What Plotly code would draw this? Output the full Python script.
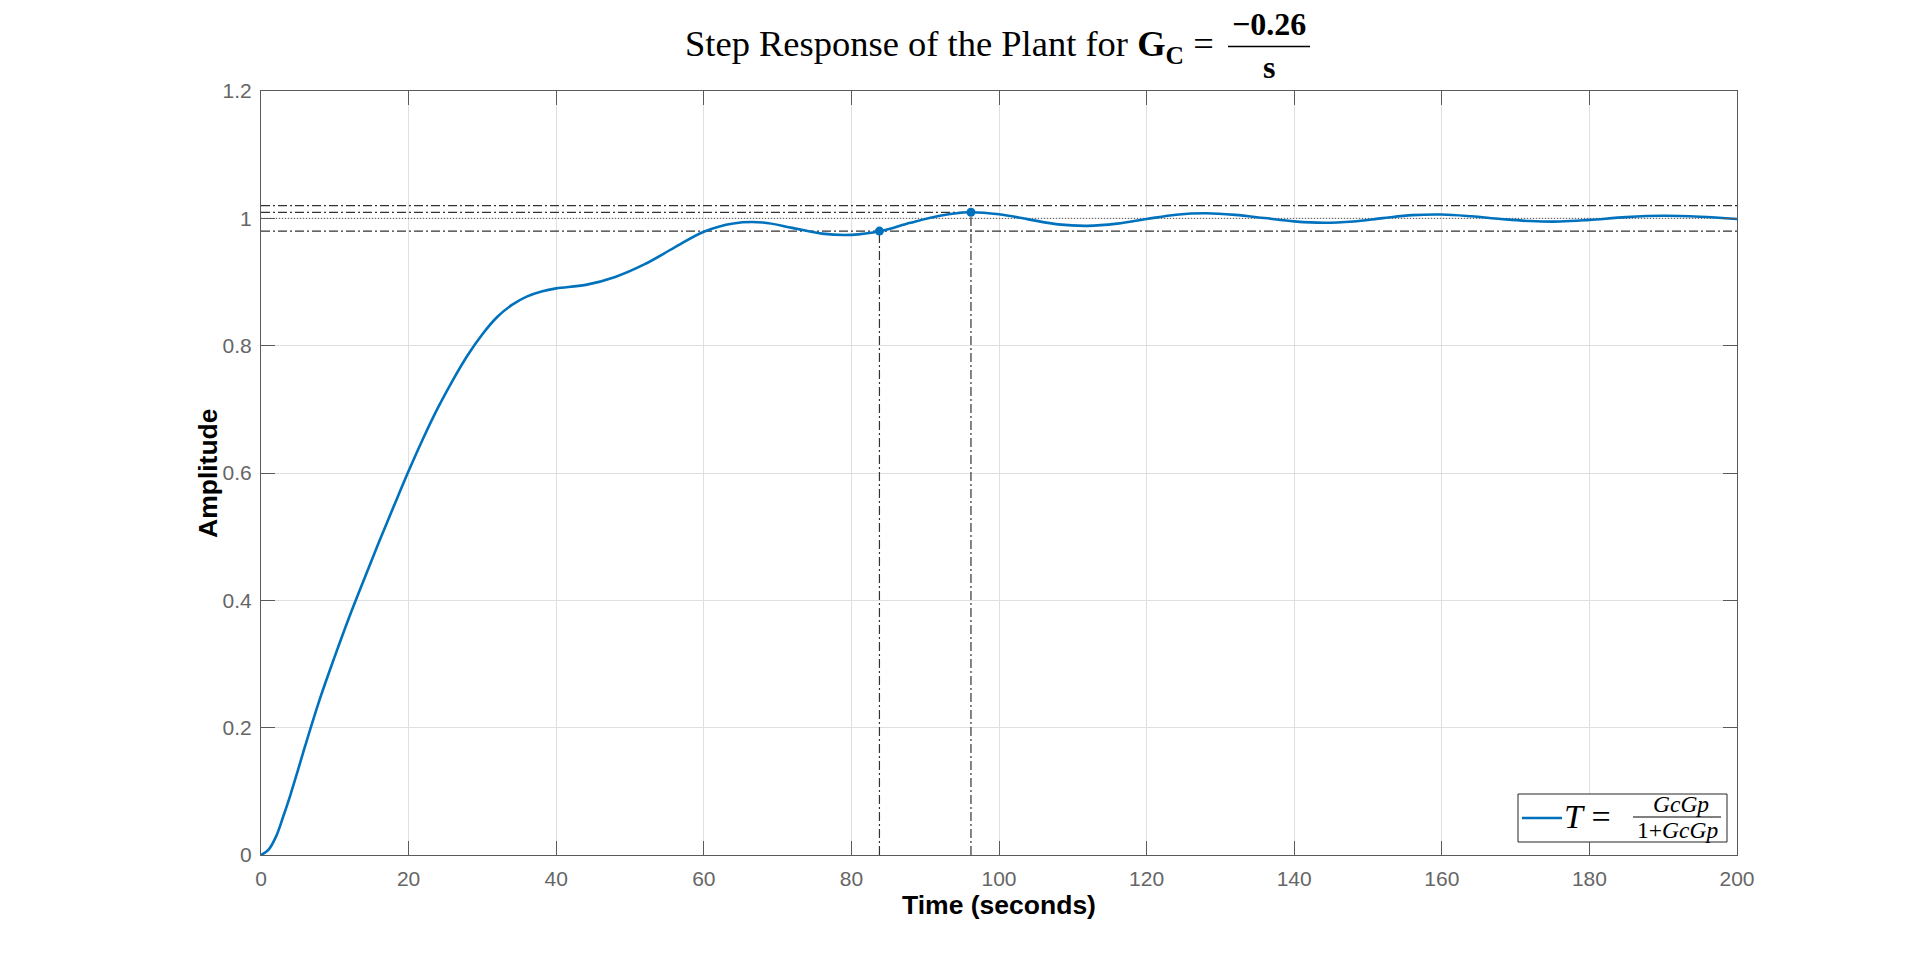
import plotly.graph_objects as go

# step response samples
time_s = [0, 1, 2, 3, 4, 5, 6, 8, 10, 12, 14, 16, 18, 20, 22, 24, 26, 28, 30, 32,
          34, 36, 38, 40, 44, 48, 52, 56, 60, 64, 68, 72, 76, 80, 84, 88, 92, 96,
          100, 104, 108, 112, 116, 120, 124, 128, 132, 136, 140, 144, 148, 152,
          156, 160, 164, 168, 172, 176, 180, 185, 190, 195, 200]
amplitude = [0, 0.008, 0.028, 0.06, 0.095, 0.133, 0.172, 0.246, 0.312, 0.375,
             0.434, 0.492, 0.548, 0.603, 0.655, 0.703, 0.746, 0.785, 0.818, 0.845,
             0.864, 0.877, 0.885, 0.890, 0.8955, 0.908, 0.928, 0.954, 0.979, 0.992,
             0.9935, 0.985, 0.976, 0.974, 0.980, 0.993, 1.004, 1.0095, 1.0064,
             0.9984, 0.9905, 0.9882, 0.9917, 0.9989, 1.0057, 1.008, 1.0055, 1.0004,
             0.9953, 0.993, 0.9951, 1.0003, 1.005, 1.006, 1.0032, 0.999, 0.9957,
             0.995, 0.9975, 1.0019, 1.004, 1.0025, 0.999]

# characteristics
settling_time = 83.8
settling_value = 0.98
peak_time = 96.2
peak_value = 1.0095
final_value = 1.0
band_upper = 1.02
band_lower = 0.98
t_end = 200

x_ticks = [0, 20, 40, 60, 80, 100, 120, 140, 160, 180, 200]
y_ticks = [0, 0.2, 0.4, 0.6, 0.8, 1, 1.2]

blue = '#0072BD'
dark = '#333333'
dashdot = '9px,3px,2px,3px'

fig = go.Figure()

# horizontal reference lines
fig.add_trace(go.Scatter(x=[0, t_end], y=[band_upper, band_upper], mode='lines',
                         line=dict(color=dark, width=1.2, dash=dashdot), hoverinfo='skip'))
fig.add_trace(go.Scatter(x=[0, t_end], y=[band_lower, band_lower], mode='lines',
                         line=dict(color=dark, width=1.2, dash=dashdot), hoverinfo='skip'))
fig.add_trace(go.Scatter(x=[0, t_end], y=[final_value, final_value], mode='lines',
                         line=dict(color='#555555', width=1, dash='1px,2px'), hoverinfo='skip'))
fig.add_trace(go.Scatter(x=[0, peak_time], y=[peak_value, peak_value], mode='lines',
                         line=dict(color=dark, width=1.2, dash=dashdot), hoverinfo='skip'))
# vertical reference lines
fig.add_trace(go.Scatter(x=[settling_time, settling_time], y=[0, settling_value], mode='lines',
                         line=dict(color=dark, width=1.2, dash=dashdot), hoverinfo='skip'))
fig.add_trace(go.Scatter(x=[peak_time, peak_time], y=[0, peak_value], mode='lines',
                         line=dict(color=dark, width=1.2, dash=dashdot), hoverinfo='skip'))

fig.add_trace(go.Scatter(x=time_s, y=amplitude, mode='lines', name='T',
                         line=dict(color=blue, width=2.6, shape='spline', smoothing=1)))
fig.add_trace(go.Scatter(x=[settling_time, peak_time], y=[settling_value, peak_value],
                         mode='markers', marker=dict(color=blue, size=9)))

axis_common = dict(showline=True, linecolor='#5a5a5a', linewidth=1.2, mirror='ticks',
                   ticks='inside', ticklen=14, tickcolor='#5a5a5a', showgrid=True,
                   gridcolor='#dfdfdf', gridwidth=1, zeroline=False,
                   tickfont=dict(family='Liberation Sans, Arial', size=21, color='#666666'))

fig.update_xaxes(range=[0, t_end], tickvals=x_ticks, automargin=False, ticklabelstandoff=5,
                 title=dict(text='<b>Time (seconds)</b>', standoff=4,
                            font=dict(family='Liberation Sans, Arial', size=26.5, color='black')),
                 **axis_common)
fig.update_yaxes(range=[0, 1.2], tickvals=y_ticks, automargin=False, ticklabelstandoff=4,
                 **axis_common)

serif = 'Liberation Serif, Times New Roman, serif'


def px_x(p):
    # horizontal pixel of the reference -> paper fraction of the plot area
    return (p - 261) / 1476


def px_y(p):
    return (855 - p) / 764


annotations = [
    dict(text='<b>Amplitude</b>', x=px_x(208), y=0.5, textangle=-90, xanchor='center',
         yanchor='middle', font=dict(family='Liberation Sans, Arial', size=26.5, color='black')),
    dict(text='Step Response of the Plant for <b>G<sub>C</sub></b> =', x=px_x(1216), y=px_y(46),
         xanchor='right', yanchor='middle', font=dict(family=serif, size=36.5, color='black')),
    dict(text='<b>\u22120.26</b>', x=px_x(1269), y=px_y(24), xanchor='center', yanchor='middle',
         font=dict(family=serif, size=32, color='black')),
    dict(text='<b>s</b>', x=px_x(1269), y=px_y(67), xanchor='center', yanchor='middle',
         font=dict(family=serif, size=32, color='black')),
    # legend text
    dict(text='<i>T</i> =', x=px_x(1562), y=px_y(816), xanchor='left',
         yanchor='middle', font=dict(family=serif, size=34, color='black')),
    dict(text='<i>GcGp</i>', x=px_x(1681), y=px_y(804), xanchor='center',
         yanchor='middle', font=dict(family=serif, size=23.5, color='black')),
    dict(text='1+<i>GcGp</i>', x=px_x(1677), y=px_y(830), xanchor='center',
         yanchor='middle', font=dict(family=serif, size=23.5, color='black')),
]
for a in annotations:
    a.update(xref='paper', yref='paper', showarrow=False)

shapes = [
    dict(type='line', xref='paper', yref='paper', x0=px_x(1228), x1=px_x(1310),
         y0=px_y(46.5), y1=px_y(46.5), line=dict(color='black', width=1.6)),
    # legend box
    dict(type='rect', xref='paper', yref='paper', x0=px_x(1518), x1=px_x(1727),
         y0=px_y(842), y1=px_y(794), fillcolor='white',
         line=dict(color='#262626', width=1), layer='above'),
    dict(type='line', xref='paper', yref='paper', x0=px_x(1522), x1=px_x(1562),
         y0=px_y(818), y1=px_y(818), line=dict(color=blue, width=2.6)),
    dict(type='line', xref='paper', yref='paper', x0=px_x(1633), x1=px_x(1721),
         y0=px_y(817), y1=px_y(817), line=dict(color='black', width=1)),
]

fig.update_layout(width=1920, height=960, showlegend=False,
                  paper_bgcolor='white', plot_bgcolor='white',
                  margin=dict(l=253, r=191, t=83, b=113),
                  annotations=annotations, shapes=shapes)

fig.write_html("out.html")
